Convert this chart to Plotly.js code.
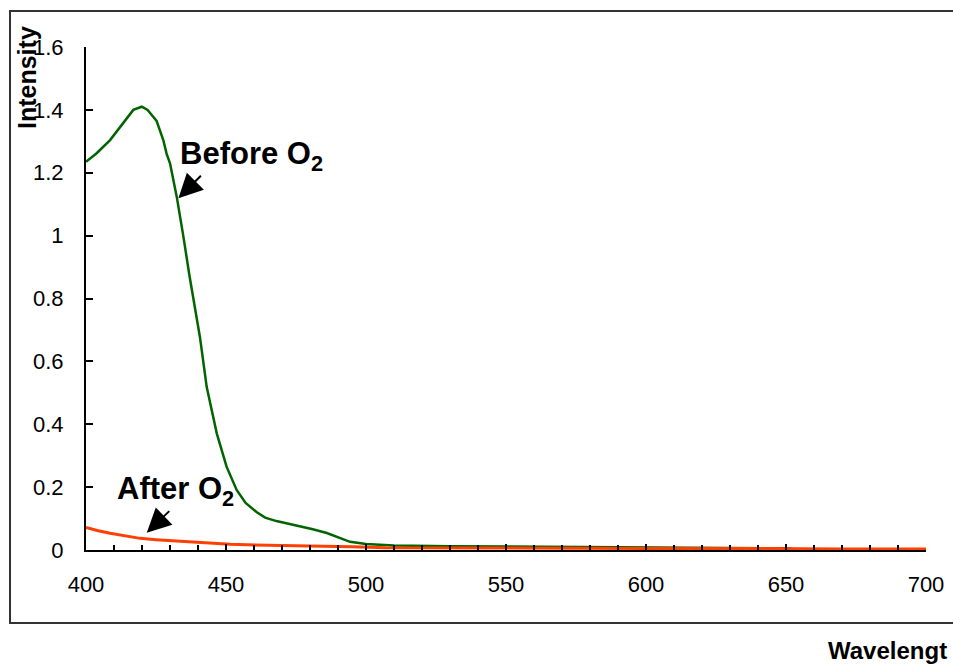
<!DOCTYPE html>
<html>
<head>
<meta charset="utf-8">
<script src="https://cdn.plot.ly/plotly-3.0.1.min.js"></script>
<style>html,body{margin:0;padding:0;background:#fff;}#chart{width:953px;height:667px;}</style>
</head>
<body>
<div id="chart"></div>
<script>
// Wavelength (nm) and intensity for "Before O2"
const beforeX = [400, 403.8, 408.6, 413.3, 416.9, 419.9, 422, 424, 425.2, 427.6, 428.8, 430, 431.8, 432.4, 434.8, 437, 440.7, 443.1, 446.7, 450.2, 453.8, 457, 461, 464, 468, 472, 476.4, 481, 486, 490, 494.3, 500, 510, 530, 550, 580, 600, 630, 652];
const beforeY = [1.235, 1.262, 1.304, 1.357, 1.400, 1.410, 1.400, 1.378, 1.365, 1.304, 1.260, 1.230, 1.150, 1.124, 0.996, 0.870, 0.677, 0.519, 0.371, 0.265, 0.191, 0.150, 0.120, 0.103, 0.092, 0.084, 0.076, 0.066, 0.054, 0.040, 0.026, 0.019, 0.014, 0.012, 0.011, 0.009, 0.008, 0.006, 0.005];
// "After O2"
const afterX = [400, 404, 408.6, 414, 419.3, 425, 430, 439.5, 451.4, 465, 480, 495, 507, 530, 560, 600, 640, 650, 670, 700];
const afterY = [0.072, 0.062, 0.053, 0.045, 0.037, 0.033, 0.030, 0.026, 0.018, 0.015, 0.013, 0.010, 0.007, 0.006, 0.006, 0.005, 0.005, 0.004, 0.003, 0.003];

const xRange = [400, 700];
const yRange = [0, 1.6];
const xTitle = "Wavelengt";
const yTitle = "Intensity";
const beforeLabel = "Before O<sub>2</sub>";
const afterLabel = "After O<sub>2</sub>";

const W = 953, H = 667;
const L = 86, R = 926, T = 47, B = 550;
const px = x => (x - L) / (R - L);
const py = y => (B - y) / (B - T);
const FONT = "Liberation Sans, Arial, sans-serif";

const traces = [
  {x: beforeX, y: beforeY, mode: "lines", line: {color: "#006400", width: 2.5}, name: "Before O2", hoverinfo: "skip"},
  {x: afterX, y: afterY, mode: "lines", line: {color: "#FF4000", width: 3}, name: "After O2", hoverinfo: "skip"}
];

const axisCommon = {
  showline: true, linecolor: "#000", linewidth: 2,
  showgrid: false, zeroline: false,
  ticks: "inside", tickcolor: "#000", tickwidth: 2,
  tickfont: {family: FONT, size: 22, color: "#000"}
};

const layout = {
  width: W, height: H,
  margin: {l: L, r: W - R, t: T, b: H - B, pad: 0},
  paper_bgcolor: "#fff", plot_bgcolor: "#fff",
  showlegend: false,
  xaxis: Object.assign({}, axisCommon, {
    range: xRange, dtick: 50, tick0: 400, ticklen: 6, ticklabelstandoff: 14,
    minor: {dtick: 10, ticks: "inside", ticklen: 5, tickcolor: "#000", tickwidth: 2}
  }),
  yaxis: Object.assign({}, axisCommon, {
    range: yRange, dtick: 0.2, tick0: 0, ticklen: 7, ticklabelstandoff: 16
  }),
  shapes: [
    {type: "rect", xref: "paper", yref: "paper", x0: px(10), x1: px(990), y0: py(623), y1: py(11),
     line: {color: "#333", width: 2}, fillcolor: "rgba(0,0,0,0)", layer: "below"}
  ],
  annotations: [
    {xref: "paper", yref: "paper", x: px(27), y: py(78), text: "<b>" + yTitle + "</b>", textangle: -90,
     showarrow: false, xanchor: "center", yanchor: "middle", font: {family: FONT, size: 25, color: "#000"}},
    {xref: "paper", yref: "paper", x: px(826), y: py(650), text: "<b>" + xTitle + "</b>",
     showarrow: false, xanchor: "left", yanchor: "middle", font: {family: FONT, size: 24, color: "#000"}},
    {xref: "paper", yref: "paper", x: px(178), y: py(156), text: "<b>" + beforeLabel + "</b>",
     showarrow: false, xanchor: "left", yanchor: "middle", font: {family: FONT, size: 31, color: "#000"}},
    {xref: "paper", yref: "paper", x: px(115), y: py(491), text: "<b>" + afterLabel + "</b>",
     showarrow: false, xanchor: "left", yanchor: "middle", font: {family: FONT, size: 31, color: "#000"}},
    {x: 433, y: 1.119, xref: "x", yref: "y", text: "", showarrow: true, ax: 24, ay: -24,
     arrowhead: 2, arrowsize: 2.4, arrowwidth: 2, arrowcolor: "#000"},
    {x: 421.7, y: 0.055, xref: "x", yref: "y", text: "", showarrow: true, ax: 24, ay: -23,
     arrowhead: 2, arrowsize: 2.4, arrowwidth: 2, arrowcolor: "#000"}
  ]
};

Plotly.newPlot("chart", traces, layout, {staticPlot: true, displayModeBar: false});
</script>
</body>
</html>
